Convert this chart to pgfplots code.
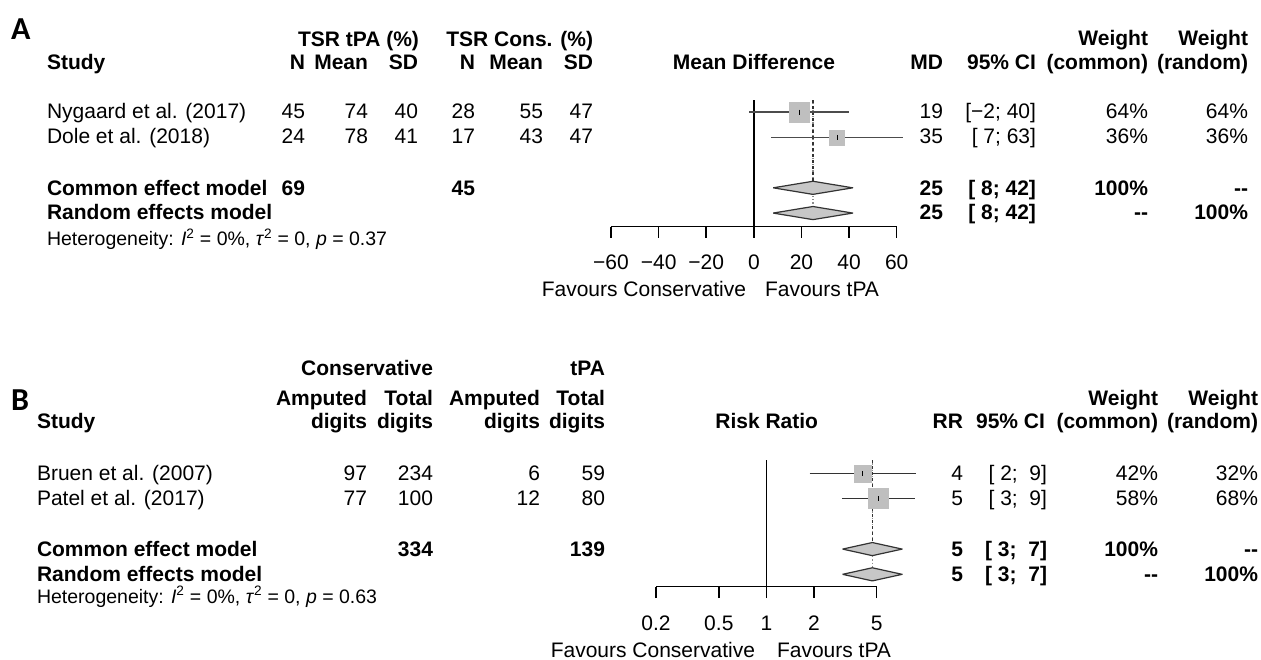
\documentclass[border=0pt]{standalone}
\usepackage{fontspec}
\setmainfont{Liberation Sans}
\newfontfamily\panelfont{Carlito}
\usepackage{pgfplots}
\pgfplotsset{compat=1.18}

\pgfplotsset{
  forest/.style={
    scale only axis, height=126.6pt, clip=false,
    axis x line*=bottom, axis y line=none,
    x axis line style={-, line width=1.5pt, black},
    tick align=outside, major tick length=11.3pt,
    xtick style={line width=1.5pt, black},
    xticklabel style={font=\fontsize{21}{24}\selectfont, anchor=base, yshift=-32pt},
    ytick=\empty,
  },
  ci/.style={black!70, line width=1.5pt},
  box/.style={only marks, mark=square*, color=black!25},
  dia/.style={fill=black!22, draw=black!80, line width=1.2pt, line join=round},
}

\begin{document}
\begin{tikzpicture}
\path (0,0) rectangle (1261pt,-660pt);

% ---------------- Panel A ----------------
\begin{axis}[forest, at={(611pt,-226.7pt)}, anchor=south west,
  width=285.7pt, xmin=-60, xmax=60, ymin=-5.54, ymax=-0.525,
  xtick={-60,-40,-20,0,20,40,60},
  xticklabels={−60,−40,−20,0,20,40,60}]
\addplot[black, line width=1.5pt] coordinates {(0,-0.525) (0,-5.54)};
\addplot[black!45, dotted, line width=1.2pt] coordinates {(24.82,-0.525) (24.82,-5.0)};
\addplot[black!80, dashed, line width=1.2pt] coordinates {(24.82,-0.525) (24.82,-3.74)};
\addplot[box, mark size=10pt] coordinates {(19,-1)};
\addplot[box, mark size=7.5pt] coordinates {(35,-2)};
\addplot[ci] coordinates {(-1.97,-1) (39.97,-1)};
\addplot[ci] coordinates {(7.28,-2) (62.72,-2)};
\addplot[only marks, mark=|, mark size=2.5pt, mark options={black, line width=1pt}] coordinates {(19,-1) (35,-2)};
\addplot[dia] coordinates {(8.10,-4) (24.82,-3.74) (41.54,-4) (24.82,-4.26) (8.10,-4)};
\addplot[dia] coordinates {(8.10,-5) (24.82,-4.74) (41.54,-5) (24.82,-5.26) (8.10,-5)};
\end{axis}

% ---------------- Panel B ----------------
\begin{axis}[forest, at={(656pt,-586.7pt)}, anchor=south west,
  width=220.7pt, xmode=log, xmin=0.2, xmax=5, ymin=-5.49, ymax=-0.475,
  xtick={0.2,0.5,1,2,5},
  xticklabels={0.2,0.5,1,2,5}]
\addplot[black, line width=1.5pt] coordinates {(1,-0.475) (1,-5.49)};
\addplot[black!45, dotted, line width=1.2pt] coordinates {(4.69,-0.475) (4.69,-5.0)};
\addplot[black!80, dashed, line width=1.2pt] coordinates {(4.69,-0.475) (4.69,-3.74)};
\addplot[box, mark size=8.4pt] coordinates {(4.08,-1)};
\addplot[box, mark size=10pt] coordinates {(5.13,-2)};
\addplot[ci, black!80] coordinates {(1.88,-1) (8.84,-1)};
\addplot[ci, black!80] coordinates {(3.01,-2) (8.74,-2)};
\addplot[only marks, mark=|, mark size=2.5pt, mark options={black, line width=1pt}] coordinates {(4.08,-1) (5.13,-2)};
\addplot[dia] coordinates {(3.04,-4) (4.69,-3.74) (7.25,-4) (4.69,-4.26) (3.04,-4)};
\addplot[dia] coordinates {(3.04,-5) (4.69,-4.74) (7.25,-5) (4.69,-5.26) (3.04,-5)};
\end{axis}

\begin{scope}[x=1pt, y=-1pt, every node/.style={inner sep=0pt, outer sep=0pt},
  font=\fontsize{21}{24}\selectfont,
  L/.style={anchor=base west}, R/.style={anchor=base east}, C/.style={anchor=base},
  H/.style={anchor=base west, font=\fontsize{19.5}{22}\selectfont},
  P/.style={anchor=base west, font=\panelfont\bfseries\fontsize{32}{34}\selectfont}]

% ---- Panel A text
\node[P] at (11,40) {A};
\node[R] at (419,47) {\bfseries TSR tPA (\%)};
\node[R] at (593,47) {\bfseries TSR Cons. (\%)};
\node[R] at (1148,46) {\bfseries Weight};
\node[R] at (1248,46) {\bfseries Weight};

\node[L] at (47,70) {\bfseries Study};
\node[R] at (305,70) {\bfseries N};
\node[R] at (368,70) {\bfseries Mean};
\node[R] at (418,70) {\bfseries SD};
\node[R] at (475,70) {\bfseries N};
\node[R] at (543,70) {\bfseries Mean};
\node[R] at (593,70) {\bfseries SD};
\node[C] at (754,70) {\bfseries Mean Difference};
\node[R] at (943,70) {\bfseries MD};
\node[R] at (1036,70) {\bfseries 95\% CI};
\node[R] at (1148,70) {\bfseries (common)};
\node[R] at (1248,70) {\bfseries (random)};

\node[L] at (47,119) {Nygaard et al. (2017)};
\node[R] at (305,119) {45};
\node[R] at (368,119) {74};
\node[R] at (418,119) {40};
\node[R] at (475,119) {28};
\node[R] at (543,119) {55};
\node[R] at (593,119) {47};
\node[R] at (943,119) {19};
\node[R] at (1036,119) {[−2; 40]};
\node[R] at (1148,119) {64\%};
\node[R] at (1248,119) {64\%};

\node[L] at (47,144) {Dole et al. (2018)};
\node[R] at (305,144) {24};
\node[R] at (368,144) {78};
\node[R] at (418,144) {41};
\node[R] at (475,144) {17};
\node[R] at (543,144) {43};
\node[R] at (593,144) {47};
\node[R] at (943,144) {35};
\node[R] at (1036,144) {[~7; 63]};
\node[R] at (1148,144) {36\%};
\node[R] at (1248,144) {36\%};

\node[L] at (47,196) {\bfseries Common effect model};
\node[R] at (305,196) {\bfseries 69};
\node[R] at (475,196) {\bfseries 45};
\node[R] at (943,196) {\bfseries 25};
\node[R] at (1036,196) {\bfseries [~8; 42]};
\node[R] at (1148,196) {\bfseries 100\%};
\node[R] at (1248,196) {\bfseries -{}-};

\node[L] at (47,220) {\bfseries Random effects model};
\node[R] at (943,220) {\bfseries 25};
\node[R] at (1036,220) {\bfseries [~8; 42]};
\node[R] at (1148,220) {\bfseries -{}-};
\node[R] at (1248,220) {\bfseries 100\%};

\node[H] at (47,246) {Heterogeneity: \textit{I}\textsuperscript{2} = 0\%, \textit{τ}\textsuperscript{2} = 0, \textit{p} = 0.37};

\node[R] at (746,297) {Favours Conservative};
\node[L] at (765,297) {Favours tPA};

% ---- Panel B text
\node[P] at (11,410) {B};
\node[R] at (433,375) {\bfseries Conservative};
\node[R] at (605,375) {\bfseries tPA};

\node[R] at (367,405) {\bfseries Amputed};
\node[R] at (433,405) {\bfseries Total};
\node[R] at (540,405) {\bfseries Amputed};
\node[R] at (605,405) {\bfseries Total};
\node[R] at (1158,405) {\bfseries Weight};
\node[R] at (1258,405) {\bfseries Weight};

\node[L] at (37,428) {\bfseries Study};
\node[R] at (367,428) {\bfseries digits};
\node[R] at (433,428) {\bfseries digits};
\node[R] at (540,428) {\bfseries digits};
\node[R] at (605,428) {\bfseries digits};
\node[C] at (766.7,428) {\bfseries Risk Ratio};
\node[R] at (963,428) {\bfseries RR};
\node[R] at (1045,428) {\bfseries 95\% CI};
\node[R] at (1158,428) {\bfseries (common)};
\node[R] at (1258,428) {\bfseries (random)};

\node[L] at (37,480) {Bruen et al. (2007)};
\node[R] at (367,480) {97};
\node[R] at (433,480) {234};
\node[R] at (540,480) {6};
\node[R] at (605,480) {59};
\node[R] at (963,480) {4};
\node[R] at (1047,480) {[~2;~~9]};
\node[R] at (1158,480) {42\%};
\node[R] at (1258,480) {32\%};

\node[L] at (37,505) {Patel et al. (2017)};
\node[R] at (367,505) {77};
\node[R] at (433,505) {100};
\node[R] at (540,505) {12};
\node[R] at (605,505) {80};
\node[R] at (963,505) {5};
\node[R] at (1047,505) {[~3;~~9]};
\node[R] at (1158,505) {58\%};
\node[R] at (1258,505) {68\%};

\node[L] at (37,556) {\bfseries Common effect model};
\node[R] at (433,556) {\bfseries 334};
\node[R] at (605,556) {\bfseries 139};
\node[R] at (963,556) {\bfseries 5};
\node[R] at (1047,556) {\bfseries [~3;~~7]};
\node[R] at (1158,556) {\bfseries 100\%};
\node[R] at (1258,556) {\bfseries -{}-};

\node[L] at (37,581) {\bfseries Random effects model};
\node[R] at (963,581) {\bfseries 5};
\node[R] at (1047,581) {\bfseries [~3;~~7]};
\node[R] at (1158,581) {\bfseries -{}-};
\node[R] at (1258,581) {\bfseries 100\%};

\node[H] at (37,603) {Heterogeneity: \textit{I}\textsuperscript{2} = 0\%, \textit{τ}\textsuperscript{2} = 0, \textit{p} = 0.63};

\node[R] at (755,657) {Favours Conservative};
\node[L] at (777,657) {Favours tPA};
\end{scope}
\end{tikzpicture}
\end{document}
